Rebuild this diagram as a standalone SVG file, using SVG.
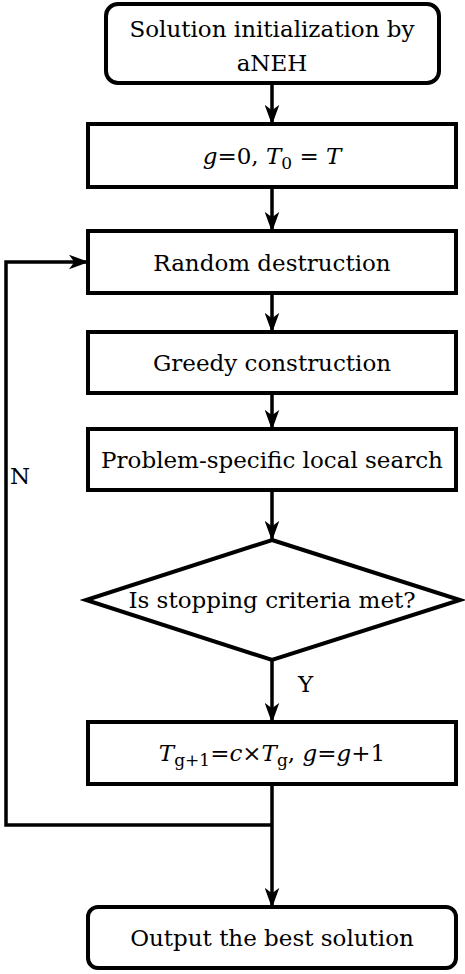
<svg xmlns="http://www.w3.org/2000/svg" width="465" height="974" viewBox="0 0 465 974">
<style>
.box{fill:#fff;stroke:#000;stroke-width:4}
.ln{fill:none;stroke:#000;stroke-width:3.5}
text{font-family:'DejaVu Serif',serif;font-size:23px;fill:#000}
.c{text-anchor:middle}
.i{font-style:italic}
</style>
<defs>
<marker id="ah" markerUnits="userSpaceOnUse" markerWidth="20" markerHeight="15" viewBox="0 0 22 16" refX="21" refY="8" orient="auto">
<path d="M0,0 L22,8 L0,16 L6,8 z" fill="#000"/>
</marker>
</defs>
<rect width="465" height="974" fill="#fff"/>
<g id="connectors">
<line class="ln" x1="272" y1="83" x2="272" y2="124" marker-end="url(#ah)"/>
<line class="ln" x1="272" y1="187" x2="272" y2="231" marker-end="url(#ah)"/>
<line class="ln" x1="272" y1="293" x2="272" y2="332" marker-end="url(#ah)"/>
<line class="ln" x1="272" y1="393" x2="272" y2="429" marker-end="url(#ah)"/>
<line class="ln" x1="272" y1="490" x2="272" y2="540" marker-end="url(#ah)"/>
<line class="ln" x1="272" y1="660" x2="272" y2="722" marker-end="url(#ah)"/>
<line class="ln" x1="272" y1="784" x2="272" y2="907" marker-end="url(#ah)"/>
<polyline class="ln" points="272,825 6,825 6,262 88,262" marker-end="url(#ah)"/>
<text x="10" y="484">N</text>
<text x="298" y="692">Y</text>
</g>
<g id="n1">
<rect class="box" x="106" y="4" width="333" height="79" rx="12"/>
<text class="c" x="272" y="37">Solution initialization by</text>
<text class="c" x="272" y="71">aNEH</text>
</g>
<g id="n2">
<rect class="box" x="88" y="124" width="368" height="63"/>
<text class="c" x="272" y="164"><tspan class="i">g</tspan>=0, <tspan class="i">T</tspan><tspan font-size="17" dy="5">0</tspan><tspan dy="-5"> = </tspan><tspan class="i">T</tspan></text>
</g>
<g id="n3">
<rect class="box" x="88" y="231" width="368" height="62"/>
<text class="c" x="272" y="271">Random destruction</text>
</g>
<g id="n4">
<rect class="box" x="88" y="332" width="368" height="61"/>
<text class="c" x="272" y="371">Greedy construction</text>
</g>
<g id="n5">
<rect class="box" x="88" y="429" width="368" height="61"/>
<text class="c" x="272" y="468">Problem-specific local search</text>
</g>
<g id="n6">
<polygon class="box" points="272,540 460,600 272,660 86,600"/>
<text class="c" x="272" y="608">Is stopping criteria met?</text>
</g>
<g id="n7">
<rect class="box" x="88" y="722" width="368" height="62"/>
<text class="c" x="272" y="761"><tspan class="i">T</tspan><tspan font-size="17" dy="5">g+1</tspan><tspan dy="-5">=</tspan><tspan class="i">c</tspan>×<tspan class="i">T</tspan><tspan font-size="17" dy="5">g</tspan><tspan dy="-5">, </tspan><tspan class="i">g</tspan>=<tspan class="i">g</tspan>+1</text>
</g>
<g id="n8">
<rect class="box" x="88" y="907" width="368" height="61" rx="10"/>
<text class="c" x="272" y="946">Output the best solution</text>
</g>
</svg>
